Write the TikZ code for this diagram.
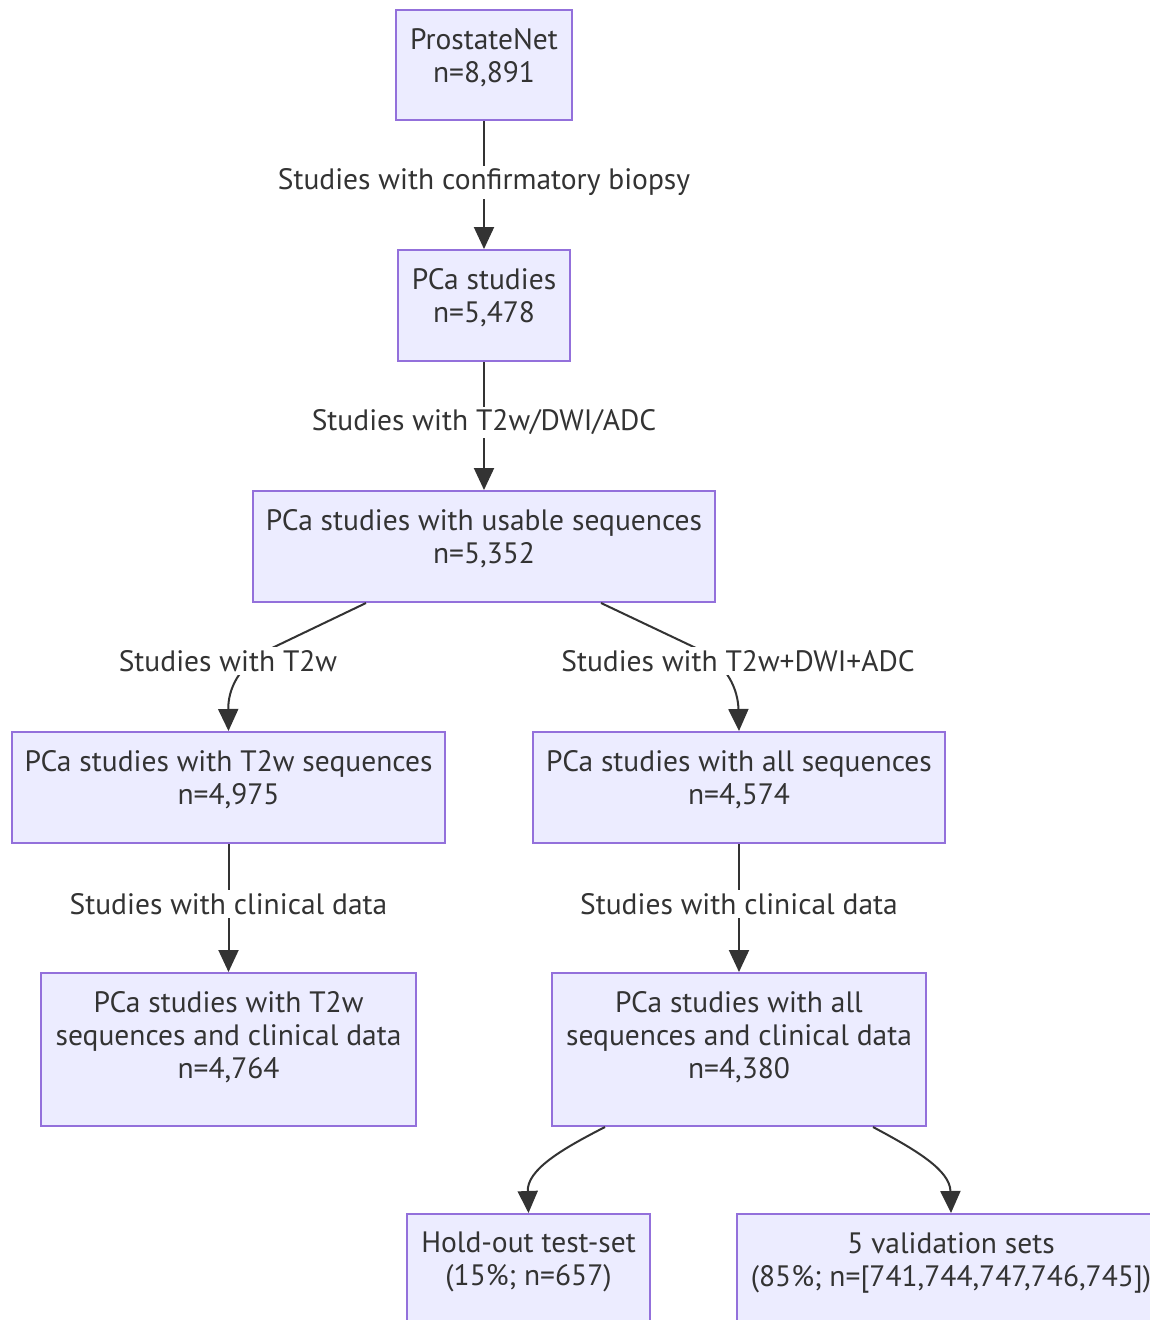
\documentclass[tikz,border=0pt]{standalone}
\usepackage{fontspec}
\setmainfont{PT Sans}
\usetikzlibrary{arrows.meta,calc}
\definecolor{boxfill}{HTML}{ECECFF}
\definecolor{boxline}{HTML}{9370DB}
\definecolor{ink}{HTML}{333333}
\begin{document}
\begin{tikzpicture}[x=1pt,y=-1pt,
  box/.style={draw=boxline, fill=boxfill, line width=2pt, rectangle, inner sep=0pt, anchor=north west},
  txt/.style={text=ink, align=center, font=\fontsize{29.5}{33}\selectfont, inner sep=0pt, anchor=north},
  edge/.style={draw=ink, line width=2pt, -{Triangle[length=22pt,width=20pt]}},
  elabel/.style={fill=white, text=ink, font=\fontsize{29.5}{33}\selectfont, inner sep=3pt}]
\useasboundingbox[fill=white] (0,0) rectangle (1149,1320);
% boxes
\node[box, minimum width=176pt, minimum height=110pt] (n1) at (395,9) {};
\node[box, minimum width=172pt, minimum height=111pt] (n2) at (397,249) {};
\node[box, minimum width=462pt, minimum height=111pt] (n3) at (252,490) {};
\node[box, minimum width=433pt, minimum height=111pt] (n4) at (11,731) {};
\node[box, minimum width=412pt, minimum height=111pt] (n5) at (532,731) {};
\node[box, minimum width=375pt, minimum height=153pt] (n6) at (40,972) {};
\node[box, minimum width=374pt, minimum height=153pt] (n7) at (551,972) {};
\node[box, minimum width=243pt, minimum height=112pt] (n8) at (406,1213) {};
\node[box, minimum width=428pt, minimum height=112pt] (n9) at (736,1213) {};
% texts
\node[txt] (t1) at ($(n1.north)+(0,19)$) {ProstateNet\\n=8,891};
\node[txt] (t2) at ($(n2.north)+(0,19)$) {PCa studies\\n=5,478};
\node[txt] (t3) at ($(n3.north)+(0,19)$) {PCa studies with usable sequences\\n=5,352};
\node[txt] (t4) at ($(n4.north)+(0,19)$) {PCa studies with T2w sequences\\n=4,975};
\node[txt] (t5) at ($(n5.north)+(0,19)$) {PCa studies with all sequences\\n=4,574};
\node[txt] (t6) at ($(n6.north)+(0,19)$) {PCa studies with T2w\\sequences and clinical data\\n=4,764};
\node[txt] (t7) at ($(n7.north)+(0,19)$) {PCa studies with all\\sequences and clinical data\\n=4,380};
\node[txt] (t8) at ($(n8.north)+(0,19)$) {Hold-out test-set\\(15\%; n=657)};
\node[txt] (t9) at ($(n9.north)+(0,19)$) {5 validation sets\\(85\%; n=[741,744,747,746,745])};
% edges
\draw[edge] (n1.south) -- (n2.north) node[pos=0.48, elabel] (l1) {Studies with confirmatory biopsy};
\draw[edge] (n2.south) -- (n3.north) node[pos=0.47, elabel] (l2) {Studies with T2w/DWI/ADC};
\draw[edge] ([xshift=-118pt]n3.south) -- (270,649) .. controls (238,665) and (228,690) .. (n4.north);
\node[elabel] (l3) at (228,661) {Studies with T2w};
\draw[edge] ([xshift=117pt]n3.south) -- (698,649) .. controls (728,665) and (738,690) .. (n5.north);
\node[elabel] (l4) at (738,661) {Studies with T2w+DWI+ADC};
\draw[edge] (n4.south) -- (n6.north) node[pos=0.47, elabel] (l5) {Studies with clinical data};
\draw[edge] (n5.south) -- (n7.north) node[pos=0.47, elabel] (l6) {Studies with clinical data};
\draw[edge] ([xshift=-134pt]n7.south) .. controls (560,1150) and (527,1170) .. (n8.north);
\draw[edge] ([xshift=134pt]n7.south) .. controls (916,1150) and (950,1170) .. (n9.north);
\end{tikzpicture}
\end{document}
